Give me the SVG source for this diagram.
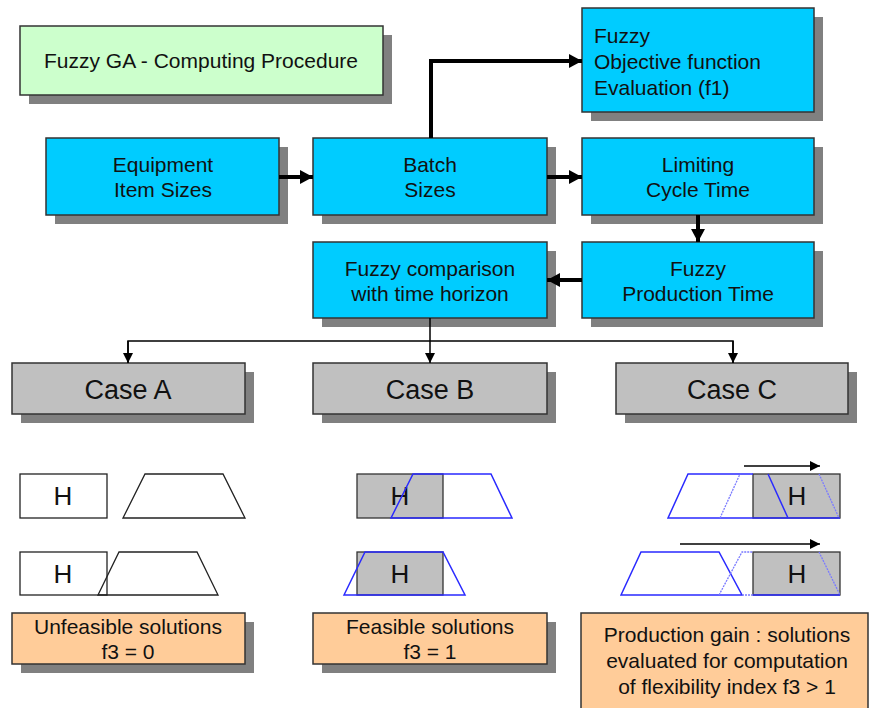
<svg xmlns="http://www.w3.org/2000/svg" width="870" height="708" viewBox="0 0 870 708">
<style>
.sh{fill:#808080}
.bx{stroke:#333;stroke-width:1.5}
.blue{fill:#00ccff}
.green{fill:#ccffcc}
.gray{fill:#c0c0c0}
.orange{fill:#ffcc99}
text{font-family:"Liberation Sans",Arial,sans-serif;fill:#111;text-anchor:middle}
.t{font-size:21px}
.tl{font-size:21px;text-anchor:start}
.c{font-size:27px}
.h{font-size:26px}
.thick{stroke:#000;stroke-width:4;fill:none}
.thin{stroke:#000;stroke-width:1.5;fill:none}
.bl{stroke:#2a2aff;stroke-width:1.5;fill:none}
.fd{stroke:#7a7aff;stroke-width:1.3;fill:none;stroke-dasharray:2 1}
.bk{stroke:#222;stroke-width:1.3;fill:none}
.gb{stroke:#333;stroke-width:1.3;fill:#c0c0c0}
</style>
<defs>
<marker id="big" markerWidth="14" markerHeight="14" refX="13" refY="7" orient="auto" markerUnits="userSpaceOnUse"><path d="M0,0 L13,7 L0,14 Z" fill="#000"/></marker>
<marker id="sm" markerWidth="10" markerHeight="10" refX="10" refY="5" orient="auto" markerUnits="userSpaceOnUse"><path d="M0,0 L10,5 L0,10 Z" fill="#000"/></marker>
</defs>

<g id="title">
<rect class="sh" x="29" y="35" width="363" height="69"/>
<rect class="bx green" x="20" y="26" width="363" height="69"/>
<text class="t" x="201" y="68">Fuzzy GA - Computing Procedure</text>
</g>

<g id="equipment">
<rect class="sh" x="55" y="147" width="233" height="77"/>
<rect class="bx blue" x="46" y="138" width="233" height="77"/>
<text class="t" x="163" y="172">Equipment</text>
<text class="t" x="163" y="197">Item Sizes</text>
</g>

<g id="batch">
<rect class="sh" x="322" y="147" width="234" height="77"/>
<rect class="bx blue" x="313" y="138" width="234" height="77"/>
<text class="t" x="430" y="172">Batch</text>
<text class="t" x="430" y="197">Sizes</text>
</g>

<g id="objective">
<rect class="sh" x="591" y="17" width="232" height="104"/>
<rect class="bx blue" x="582" y="8" width="232" height="104"/>
<text class="tl" x="594" y="43">Fuzzy</text>
<text class="tl" x="594" y="69">Objective function</text>
<text class="tl" x="594" y="95">Evaluation (f1)</text>
</g>

<g id="limiting">
<rect class="sh" x="591" y="147" width="232" height="77"/>
<rect class="bx blue" x="582" y="138" width="232" height="77"/>
<text class="t" x="698" y="172">Limiting</text>
<text class="t" x="698" y="197">Cycle Time</text>
</g>

<g id="comparison">
<rect class="sh" x="322" y="251" width="234" height="76"/>
<rect class="bx blue" x="313" y="242" width="234" height="76"/>
<text class="t" x="430" y="276">Fuzzy comparison</text>
<text class="t" x="430" y="301">with time horizon</text>
</g>

<g id="production">
<rect class="sh" x="591" y="251" width="232" height="76"/>
<rect class="bx blue" x="582" y="242" width="232" height="76"/>
<text class="t" x="698" y="276">Fuzzy</text>
<text class="t" x="698" y="301">Production Time</text>
</g>

<g id="caseA">
<rect class="sh" x="21" y="372" width="233" height="51"/>
<rect class="bx gray" x="12" y="363" width="233" height="51"/>
<text class="c" x="128" y="399">Case A</text>
</g>
<g id="caseB">
<rect class="sh" x="322" y="372" width="234" height="51"/>
<rect class="bx gray" x="313" y="363" width="234" height="51"/>
<text class="c" x="430" y="399">Case B</text>
</g>
<g id="caseC">
<rect class="sh" x="625" y="372" width="232" height="51"/>
<rect class="bx gray" x="616" y="363" width="232" height="51"/>
<text class="c" x="732" y="399">Case C</text>
</g>

<g id="connectors">
<line class="thick" x1="279" y1="177" x2="313" y2="177" marker-end="url(#big)"/>
<line class="thick" x1="547" y1="177" x2="582" y2="177" marker-end="url(#big)"/>
<polyline class="thick" points="431,138 431,61 582,61" marker-end="url(#big)"/>
<line class="thick" x1="698" y1="215" x2="698" y2="242" marker-end="url(#big)"/>
<line class="thick" x1="582" y1="280" x2="547" y2="280" marker-end="url(#big)"/>
<line class="thin" x1="430" y1="318" x2="430" y2="363" marker-end="url(#sm)"/>
<polyline class="thin" points="128,363 128,341 733,341 733,363"/>
<line class="thin" x1="128" y1="341" x2="128" y2="363" marker-end="url(#sm)"/>
<line class="thin" x1="733" y1="341" x2="733" y2="363" marker-end="url(#sm)"/>
</g>

<g id="sketchA">
<rect class="bk" x="20" y="474" width="87" height="44"/>
<text class="h" x="63" y="505">H</text>
<polygon class="bk" points="123,518 145,474 223,474 245,518"/>
<rect class="bk" x="20" y="552" width="87" height="43"/>
<text class="h" x="63" y="583">H</text>
<polygon class="bk" points="98,595 119,552 197,552 218,595"/>
</g>

<g id="sketchB">
<rect class="gb" x="357" y="474" width="86" height="44"/>
<text class="h" x="400" y="505">H</text>
<polygon class="bl" points="391,518 413,474 491,474 512,518"/>
<rect class="gb" x="357" y="552" width="86" height="43"/>
<text class="h" x="400" y="583">H</text>
<polygon class="bl" points="344,595 365,552 443,552 465,595"/>
</g>

<g id="sketchC">
<rect class="gb" x="753" y="474" width="87" height="44"/>
<text class="h" x="797" y="505">H</text>
<polyline class="bl" points="753,518 668,518 688,474 753,474"/>
<line class="bl" x1="768" y1="474" x2="788" y2="518"/>
<line class="bl" x1="753" y1="518" x2="840" y2="518"/>
<line class="fd" x1="720" y1="518" x2="740" y2="474"/>
<line class="fd" x1="819" y1="474" x2="839" y2="518"/>
<line class="thin" x1="744" y1="466" x2="820" y2="466" marker-end="url(#sm)"/>

<rect class="gb" x="753" y="552" width="87" height="43"/>
<text class="h" x="797" y="583">H</text>
<polygon class="bl" points="621,595 641,552 719,552 742,595"/>
<polyline class="fd" points="719,595 742,552 753,552"/>
<line class="fd" x1="742" y1="595" x2="753" y2="595"/>
<line class="bl" x1="753" y1="595" x2="840" y2="595"/>
<line class="fd" x1="819" y1="552" x2="840" y2="595"/>
<line class="thin" x1="680" y1="544" x2="820" y2="544" marker-end="url(#sm)"/>
</g>

<g id="unfeasible">
<rect class="sh" x="21" y="622" width="233" height="51"/>
<rect class="bx orange" x="12" y="613" width="233" height="51"/>
<text class="t" x="128" y="634">Unfeasible solutions</text>
<text class="t" x="128" y="659">f3 = 0</text>
</g>
<g id="feasible">
<rect class="sh" x="322" y="622" width="234" height="51"/>
<rect class="bx orange" x="313" y="613" width="234" height="51"/>
<text class="t" x="430" y="634">Feasible solutions</text>
<text class="t" x="430" y="659">f3 = 1</text>
</g>
<g id="gain">
<rect class="bx orange" x="581" y="613" width="287" height="100"/>
<text class="t" x="727" y="642">Production gain : solutions</text>
<text class="t" x="727" y="668">evaluated for computation</text>
<text class="t" x="727" y="694">of flexibility index f3 &gt; 1</text>
</g>
</svg>
